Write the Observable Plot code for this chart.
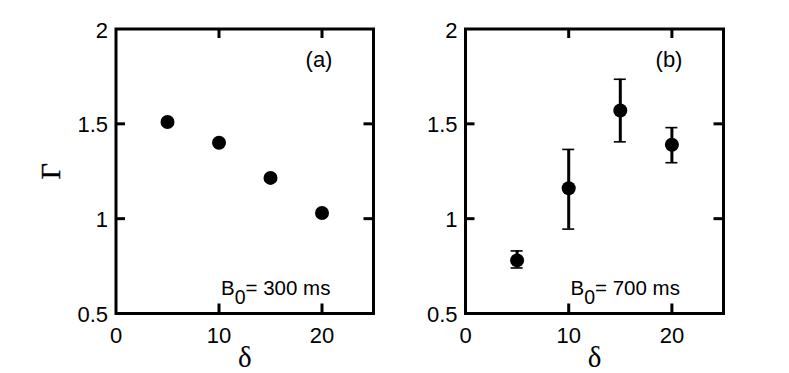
<!DOCTYPE html>
<html>
<head>
<meta charset="utf-8">
<script src="https://cdn.jsdelivr.net/npm/d3@7"></script>
<script src="https://cdn.jsdelivr.net/npm/@observablehq/plot@0.6"></script>
<style>
  html, body { margin: 0; padding: 0; background: #fff; }
  #chart { display: flex; width: 789px; height: 373px; }
  #chart svg { display: block; }
</style>
</head>
<body>
<div id="chart"></div>
<script>
// ---- data ----
const deltaA = [5, 10, 15, 20];
const gammaA = [1.51, 1.40, 1.215, 1.03];

const deltaB = [5, 10, 15, 20];
const gammaB = [0.78, 1.16, 1.57, 1.39];
const lowB = [0.74, 0.945, 1.405, 1.295];
const highB = [0.83, 1.365, 1.735, 1.48];

const xTicks = [0, 10, 20];
const xInnerTicks = [10, 20];
const yTicks = [0.5, 1, 1.5, 2];
const yInnerTicks = [1, 1.5];
const panelLabels = ["(a)", "(b)"];
const bNotes = [["B", "0", "= 300 ms"], ["B", "0", "= 700 ms"]];
const xLabel = "δ";
const yLabel = "Γ";

const SANS = "'Liberation Sans', Arial, Helvetica, sans-serif";
const SERIF = "'Liberation Serif', 'Times New Roman', serif";

const rowsA = deltaA.map((d, i) => ({x: d, y: gammaA[i]}));
const rowsB = deltaB.map((d, i) => ({x: d, y: gammaB[i], lo: lowB[i], hi: highB[i]}));

function panel({rows, withErr, width, marginLeft, marginRight, label, note, showYLabel}) {
  const marginTop = 28.5, marginBottom = 60, height = 373;
  const innerH = height - marginTop - marginBottom;
  const innerW = width - marginLeft - marginRight;
  const tick = 9.5;
  const marks = [
    Plot.axisX({ticks: xTicks, tickSize: 0, tickPadding: 14, fontSize: 22, label: null, tickFormat: d => String(d)}),
    Plot.axisY({ticks: yTicks, tickSize: 0, tickPadding: 8, dy: 1.5, fontSize: 22, label: null, tickFormat: d => String(d)}),
    // inward ticks on all four sides
    Plot.tickX(xInnerTicks, {x: d => d, insetTop: innerH - tick, strokeWidth: 3}),
    Plot.tickX(xInnerTicks, {x: d => d, insetBottom: innerH - tick, strokeWidth: 3}),
    Plot.tickY(yInnerTicks, {y: d => d, insetRight: innerW - tick, strokeWidth: 3}),
    Plot.tickY(yInnerTicks, {y: d => d, insetLeft: innerW - tick, strokeWidth: 3}),
    Plot.frame({strokeWidth: 3, stroke: "black"}),
  ];
  if (withErr) {
    marks.push(
      Plot.ruleX(rows, {x: "x", y1: "lo", y2: "hi", strokeWidth: 3, stroke: "black"}),
      Plot.ruleY(rows, {y: "lo", x1: "x", x2: "x", insetLeft: -6, insetRight: -6, strokeWidth: 1.6, stroke: "black"}),
      Plot.ruleY(rows, {y: "hi", x1: "x", x2: "x", insetLeft: -6, insetRight: -6, strokeWidth: 1.6, stroke: "black"})
    );
  }
  marks.push(
    Plot.dot(rows, {x: "x", y: "y", r: 7, fill: "black", stroke: "none"}),
    Plot.text([label], {frameAnchor: "top-right", textAnchor: "middle", lineAnchor: "middle", dx: -54.5, dy: 30.5, fontSize: 22, fontFamily: SANS, fill: "black"}),
    Plot.text([note.join("")], {frameAnchor: "bottom-left", textAnchor: "start", dx: 105, dy: -18.7, fontSize: 20.5, fontFamily: SANS, fill: "black", className: "bnote"}),
    Plot.text([xLabel], {frameAnchor: "bottom", textAnchor: "middle", dy: 53.5, fontSize: 29, fontFamily: SERIF, fill: "black"})
  );
  if (showYLabel) {
    marks.push(Plot.text([yLabel], {frameAnchor: "left", textAnchor: "middle", lineAnchor: "middle", dx: -65, rotate: -90, fontSize: 28, fontFamily: SERIF, fill: "black", stroke: "black", strokeWidth: 0.4}));
  }
  const svg = Plot.plot({
    width, height, marginTop, marginBottom, marginLeft, marginRight,
    style: {background: "white", fontFamily: SANS, color: "black", overflow: "visible"},
    x: {domain: [0, 25]},
    y: {domain: [0.5, 2]},
    marks
  });
  // rich text: subscript 0
  svg.querySelectorAll(".bnote text").forEach(t => {
    const ns = "http://www.w3.org/2000/svg";
    t.textContent = "";
    const a = document.createElementNS(ns, "tspan"); a.textContent = note[0];
    const b = document.createElementNS(ns, "tspan"); b.textContent = note[1];
    b.setAttribute("dy", "9.5"); b.setAttribute("font-size", "19.5");
    const c = document.createElementNS(ns, "tspan"); c.textContent = note[2];
    c.setAttribute("dy", "-9.5");
    t.append(a, b, c);
  });
  return svg;
}

const chart = document.getElementById("chart");
chart.append(
  panel({rows: rowsA, withErr: false, width: 394, marginLeft: 115.5, marginRight: 21, label: panelLabels[0], note: bNotes[0], showYLabel: true}),
  panel({rows: rowsB, withErr: true, width: 395, marginLeft: 71, marginRight: 66, label: panelLabels[1], note: bNotes[1], showYLabel: false})
);
</script>
</body>
</html>
